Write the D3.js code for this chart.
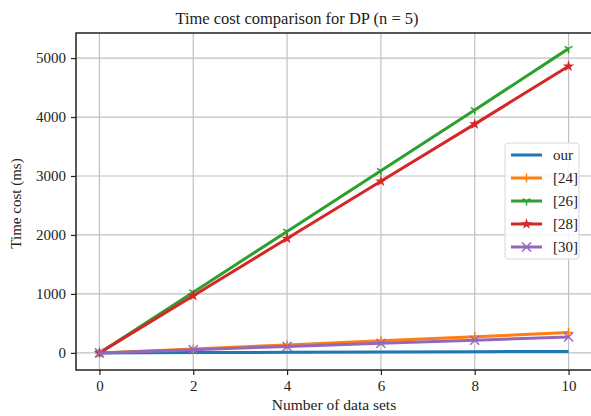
<!DOCTYPE html>
<html>
<head>
<meta charset="utf-8">
<script src="https://cdn.jsdelivr.net/npm/d3@7"></script>
<style>
  body { margin: 0; background: white; }
  text { font-family: "Liberation Serif", "DejaVu Serif", serif; fill: #222; }
</style>
</head>
<body>
<div class="wrapper"></div>
<script>
const xs = [0, 2, 4, 6, 8, 10];
const ours = [0, 5, 10, 15, 20, 25];
const ref24 = [0, 68, 136, 204, 272, 345];
const ref26 = [0, 1030, 2060, 3090, 4120, 5160];
const ref28 = [0, 970, 1940, 2910, 3880, 4860];
const ref30 = [0, 55, 110, 165, 215, 270];
const xTicks = [0, 2, 4, 6, 8, 10];
const yTicks = [0, 1000, 2000, 3000, 4000, 5000];

const series = [
  { name: "our", values: ours, color: "#1f77b4", marker: "none" },
  { name: "[24]", values: ref24, color: "#ff7f0e", marker: "plus" },
  { name: "[26]", values: ref26, color: "#2ca02c", marker: "tri" },
  { name: "[28]", values: ref28, color: "#d62728", marker: "star" },
  { name: "[30]", values: ref30, color: "#9467bd", marker: "x" }
];

const W = 591, H = 416;
const plotL = 76, plotR = 592, plotT = 33, plotB = 370;

const svg = d3.select(".wrapper").append("svg")
  .attr("width", W).attr("height", H);

const x = d3.scaleLinear().domain([-0.5, 10.5]).range([plotL, plotR]);
const y = d3.scaleLinear().domain([-290, 5425]).range([plotB, plotT]);

// grid
svg.append("g").selectAll("line").data(xTicks).enter().append("line")
  .attr("x1", d => x(d)).attr("x2", d => x(d))
  .attr("y1", plotT).attr("y2", plotB)
  .attr("stroke", "#c0c0c0").attr("stroke-width", 1.2);
svg.append("g").selectAll("line").data(yTicks).enter().append("line")
  .attr("x1", plotL).attr("x2", plotR)
  .attr("y1", d => y(d)).attr("y2", d => y(d))
  .attr("stroke", "#c0c0c0").attr("stroke-width", 1.2);

// axes
const xAxis = svg.append("g").attr("transform", `translate(0,${plotB})`)
  .call(d3.axisBottom(x).tickValues(xTicks).tickSize(5).tickPadding(5));
const yAxis = svg.append("g").attr("transform", `translate(${plotL},0)`)
  .call(d3.axisLeft(y).tickValues(yTicks).tickSize(5).tickPadding(5).tickFormat(d3.format("d")));
[xAxis, yAxis].forEach(a => {
  a.select(".domain").remove();
  a.selectAll("line").attr("stroke", "#222").attr("stroke-width", 1.2);
  a.selectAll("text").style("font-size", "15px").style("font-family", "Liberation Serif").attr("fill", "#222");
});

// frame
svg.append("rect").attr("x", plotL).attr("y", plotT)
  .attr("width", plotR - plotL).attr("height", plotB - plotT)
  .attr("fill", "none").attr("stroke", "#222").attr("stroke-width", 1.5);

const line = d3.line().x((d, i) => x(xs[i])).y(d => y(d));

function drawMarker(g, type, cx, cy, color) {
  const s = 4.5;
  if (type === "plus") {
    g.append("path").attr("d", `M${cx - s},${cy}H${cx + s}M${cx},${cy - s}V${cy + s}`)
      .attr("stroke", color).attr("stroke-width", 1.5).attr("fill", "none");
  } else if (type === "x") {
    g.append("path").attr("d", `M${cx - s},${cy - s}L${cx + s},${cy + s}M${cx - s},${cy + s}L${cx + s},${cy - s}`)
      .attr("stroke", color).attr("stroke-width", 1.5).attr("fill", "none");
  } else if (type === "tri") {
    g.append("path").attr("d", `M${cx},${cy}V${cy + s}M${cx},${cy}L${cx - s * 0.87},${cy - s * 0.5}M${cx},${cy}L${cx + s * 0.87},${cy - s * 0.5}`)
      .attr("stroke", color).attr("stroke-width", 1.5).attr("fill", "none");
  } else if (type === "star") {
    g.append("path").attr("d", d3.symbol(d3.symbolStar, 40)())
      .attr("transform", `translate(${cx},${cy})`)
      .attr("fill", color);
  }
}

series.forEach(s => {
  svg.append("path").datum(s.values)
    .attr("d", line)
    .attr("fill", "none").attr("stroke", s.color).attr("stroke-width", 3);
  const g = svg.append("g");
  s.values.forEach((v, i) => drawMarker(g, s.marker, x(xs[i]), y(v), s.color));
});

// legend
const lg = svg.append("g");
lg.append("rect").attr("x", 505).attr("y", 143).attr("width", 74).attr("height", 116)
  .attr("rx", 3).attr("fill", "white").attr("fill-opacity", 0.85)
  .attr("stroke", "#d8d8d8");
series.forEach((s, i) => {
  const ly = 155 + i * 23;
  lg.append("line").attr("x1", 511).attr("x2", 542).attr("y1", ly).attr("y2", ly)
    .attr("stroke", s.color).attr("stroke-width", 3);
  drawMarker(lg, s.marker, 526.5, ly, s.color);
  lg.append("text").attr("x", 553).attr("y", ly + 5).text(s.name).style("font-size", "15px");
});

// titles
svg.append("text").attr("x", 297).attr("y", 24).attr("text-anchor", "middle")
  .text("Time cost comparison for DP (n = 5)").style("font-size", "16.5px");
svg.append("text").attr("x", 334).attr("y", 410).attr("text-anchor", "middle")
  .text("Number of data sets").style("font-size", "15.5px");
svg.append("text").attr("transform", `translate(21,${(plotT + plotB) / 2 + 2}) rotate(-90)`)
  .attr("text-anchor", "middle").text("Time cost (ms)").style("font-size", "15px");
</script>
</body>
</html>
